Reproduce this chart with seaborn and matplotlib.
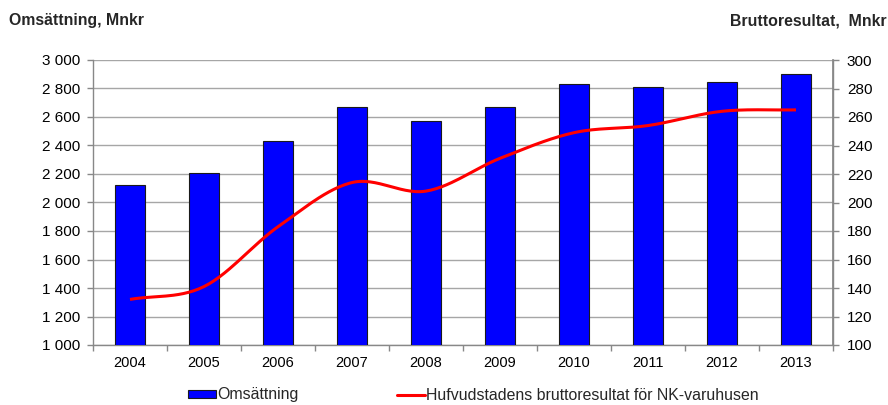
import numpy as np
import pandas as pd
import matplotlib
matplotlib.use("Agg")
import matplotlib.pyplot as plt
import seaborn as sns
from matplotlib.patches import Patch
from matplotlib.lines import Line2D
from matplotlib.ticker import FixedLocator, FuncFormatter

years = ["2004", "2005", "2006", "2007", "2008", "2009", "2010", "2011", "2012", "2013"]
omsattning = [2120, 2205, 2430, 2670, 2570, 2670, 2830, 2810, 2843, 2900]
bruttoresultat = [132, 141, 183, 214, 208, 231, 249, 254, 264, 265]

sns.set_theme(style="white")
plt.rcParams['font.family'] = ['Liberation Sans', 'DejaVu Sans']

fig = plt.figure(figsize=(8.88, 4.05), dpi=100)
ax = fig.add_axes([93/888, 1-345/405, 740/888, 285/405])

df = pd.DataFrame({"year": years, "oms": omsattning})
sns.barplot(data=df, x="year", y="oms", ax=ax, color="#0000ff", width=0.405,
            edgecolor="#1a1a1a", linewidth=0.8, saturation=1, zorder=3)

ax.set_ylim(1000, 3000)
ax.set_xlim(-0.5, len(years) - 0.5)
ax.set_yticks(np.arange(1000, 3001, 200))
ax.yaxis.set_major_formatter(FuncFormatter(lambda v, p: f"{int(v):,}".replace(",", " ")))
ax.grid(axis="y", color="#a6a6a6", linewidth=1.0, zorder=0)
ax.set_axisbelow(True)
ax.set_xlabel("")
ax.set_ylabel("")

ax.tick_params(axis="x", which="major", length=0, labelsize=10.5, colors="black", pad=8)
ax.xaxis.set_minor_locator(FixedLocator(np.arange(-0.5, len(years), 1.0)))
ax.tick_params(axis="x", which="minor", length=4, width=1, color="#888888", direction="out", bottom=True)
ax.tick_params(axis="y", length=4, width=1, color="#888888", direction="out", left=True, labelsize=11, colors="black", pad=5)

for s in ["top"]:
    ax.spines[s].set_visible(False)
for s in ["left", "bottom", "right"]:
    ax.spines[s].set_color("#888888")
    ax.spines[s].set_linewidth(1)

ax2 = ax.twinx()
ax2.set_ylim(100, 300)
ax2.set_yticks(np.arange(100, 301, 20))
ax2.tick_params(axis="y", length=4, width=1, color="#888888", direction="out", right=True, labelsize=11, colors="black", pad=6)
for s in ax2.spines.values():
    s.set_visible(False)
ax2.spines["right"].set_visible(True)
ax2.spines["right"].set_color("#888888")
ax2.grid(False)

# smoothed (Catmull-Rom) rendering through the data points
x = np.arange(len(years), dtype=float)
y = np.array(bruttoresultat, dtype=float)
px = np.concatenate([[x[0] - (x[1] - x[0])], x, [x[-1] + (x[-1] - x[-2])]])
py = np.concatenate([[y[0] - (y[1] - y[0])], y, [y[-1] + (y[-1] - y[-2])]])
xs, ys = [], []
t = np.linspace(0, 1, 30)
for i in range(1, len(px) - 2):
    p0, p1, p2, p3 = px[i-1:i+3]
    q0, q1, q2, q3 = py[i-1:i+3]
    def cr(a0, a1, a2, a3):
        return 0.5 * ((2*a1) + (-a0 + a2)*t + (2*a0 - 5*a1 + 4*a2 - a3)*t**2 + (-a0 + 3*a1 - 3*a2 + a3)*t**3)
    xs.extend(cr(p0, p1, p2, p3))
    ys.extend(cr(q0, q1, q2, q3))
ax2.plot(xs, ys, color="#ff0000", linewidth=2.2, solid_capstyle="butt", zorder=5)

fig.text(9/888, 1-25/405, "Omsättning, Mnkr", fontsize=11.4, fontweight="bold", va="baseline", ha="left")
fig.text(887/888, 1-25/405, "Bruttoresultat,  Mnkr", fontsize=11.4, fontweight="bold", va="baseline", ha="right")

handles = [Patch(facecolor="#0000ff", edgecolor="#1a1a1a", linewidth=0.8),
           Line2D([0], [0], color="#ff0000", linewidth=2.2)]
labels = ["Omsättning", "Hufvudstadens bruttoresultat för NK-varuhusen"]
fig.legend(handles, labels, loc="center left", bbox_to_anchor=(188/888, 1-395/405), ncol=2,
           frameon=False, fontsize=11.4, handlelength=1.75, handleheight=0.35, handletextpad=0.1,
           columnspacing=6.2, borderaxespad=0, borderpad=0)

fig.savefig("out.png", dpi=100)
